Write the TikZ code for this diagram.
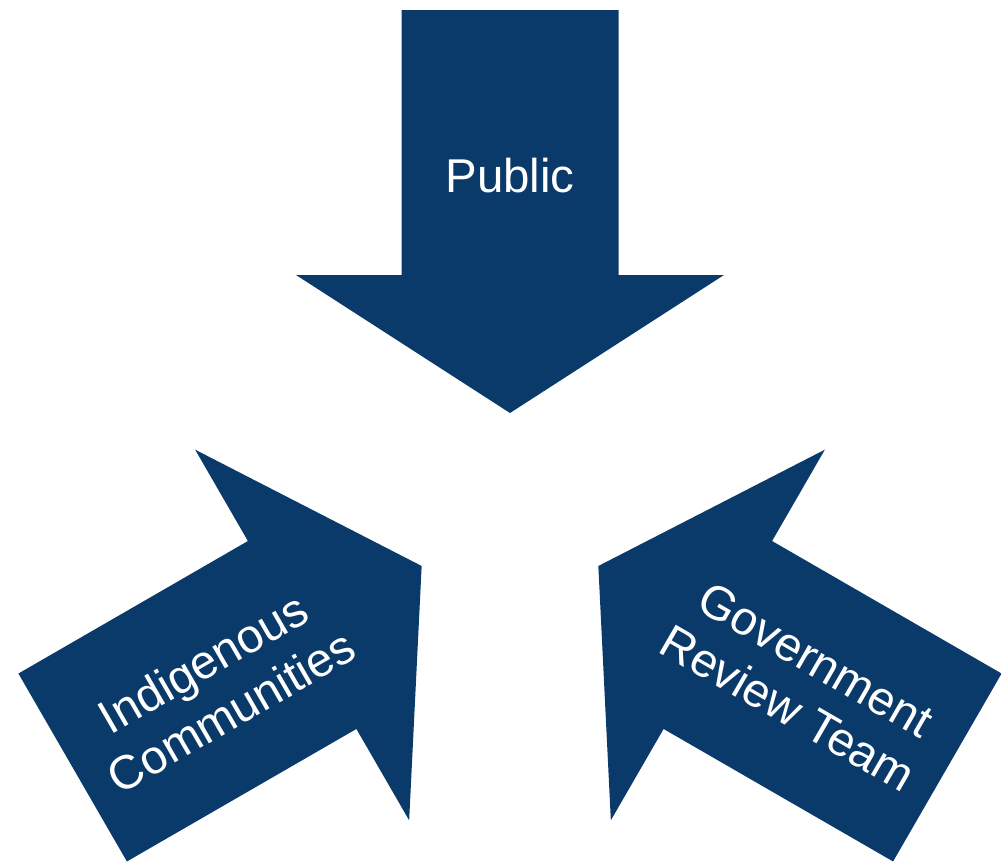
\documentclass[tikz,border=0pt]{standalone}
\usepackage{fontspec}
\setmainfont{Liberation Sans}
\usepackage{tikz}
\usetikzlibrary{positioning}
\definecolor{navy}{RGB}{10,58,106}

\begin{document}
\begin{tikzpicture}
	\tikzset{arrowfill/.style={fill=navy,draw=none},
		lbl/.style={text=white,align=center,inner sep=0pt,font=\fontsize{13.5}{16}\selectfont}}
	\useasboundingbox (0,0) rectangle (10.01,8.65);
	\coordinate (c) at (5.1,3.5);
	\fill[arrowfill,shift={(c)},rotate=90] (1.02,0) -- (2.4,2.14) -- (2.4,1.085) -- (5.05,1.085) -- (5.05,-1.085) -- (2.4,-1.085) -- (2.4,-2.14) -- cycle;
	\fill[arrowfill,shift={(c)},rotate=210] (1.02,0) -- (2.4,2.14) -- (2.4,1.085) -- (5.05,1.085) -- (5.05,-1.085) -- (2.4,-1.085) -- (2.4,-2.14) -- cycle;
	\fill[arrowfill,shift={(c)},rotate=330] (1.02,0) -- (2.4,2.14) -- (2.4,1.085) -- (5.05,1.085) -- (5.05,-1.085) -- (2.4,-1.085) -- (2.4,-2.14) -- cycle;
	\node[lbl] (public) at (5.1,6.89) {Public};
	\node[lbl,rotate=30] (indig) at (2.17,1.78) {Indigenous\\Communities};
	\node[lbl,rotate=-30] (govt) at (8.02,1.81) {Government\\Review Team};
\end{tikzpicture}
\end{document}
